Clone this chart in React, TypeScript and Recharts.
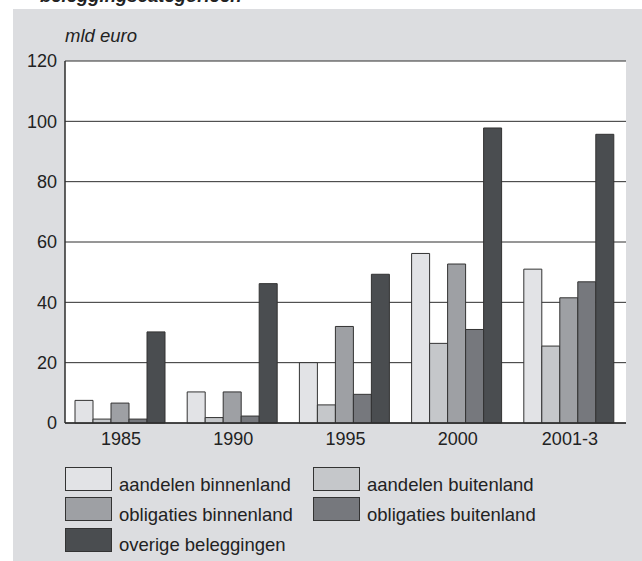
import React from 'react';
import { BarChart, Bar, XAxis, YAxis, CartesianGrid } from 'recharts';

const categories = ['1985', '1990', '1995', '2000', '2001-3'];
const seriesNames = [
  'aandelen binnenland',
  'aandelen buitenland',
  'obligaties binnenland',
  'obligaties buitenland',
  'overige beleggingen',
];
const aandelenBinnenland = [7.5, 10.3, 20, 56.2, 51];
const aandelenBuitenland = [1.3, 1.8, 6, 26.4, 25.5];
const obligatiesBinnenland = [6.6, 10.3, 32, 52.7, 41.5];
const obligatiesBuitenland = [1.3, 2.3, 9.5, 31, 46.8];
const overigeBeleggingen = [30.2, 46.2, 49.3, 97.8, 95.7];
const yTicks = [0, 20, 40, 60, 80, 100, 120];
const colors = ['#e2e3e6', '#c5c7ca', '#9ea0a4', '#76787d', '#4a4d50'];

const seriesValues = [
  aandelenBinnenland,
  aandelenBuitenland,
  obligatiesBinnenland,
  obligatiesBuitenland,
  overigeBeleggingen,
];
const keys = ['s0', 's1', 's2', 's3', 's4'];

const data = categories.map((c, i) => {
  const row: Record<string, string | number> = { cat: c };
  seriesValues.forEach((vals, k) => {
    row[keys[k]] = vals[i];
  });
  return row;
});

const FONT = '"Liberation Sans", Arial, sans-serif';

export default function App() {
  return (
    <div
      style={{
        position: 'absolute',
        left: 0,
        top: 0,
        width: 642,
        height: 561,
        overflow: 'hidden',
        background: '#ffffff',
        fontFamily: FONT,
      }}
    >
      <div
        style={{
          position: 'absolute',
          left: 13,
          top: 9,
          width: 629,
          height: 552,
          background: '#dcdde0',
        }}
      />
      <div
        style={{
          position: 'absolute',
          left: 40,
          top: -15,
          fontSize: 18.5,
          fontWeight: 'bold',
          fontStyle: 'italic',
          color: '#222',
          whiteSpace: 'nowrap',
        }}
      >
        beleggingscategorieën
      </div>
      <div
        style={{
          position: 'absolute',
          left: 65,
          top: 25,
          fontSize: 18.5,
          fontStyle: 'italic',
          color: '#222',
        }}
      >
        mld euro
      </div>
      <div style={{ position: 'absolute', left: 0, top: 0 }}>
        <BarChart
          width={642}
          height={561}
          data={data}
          margin={{ top: 61, right: 16, bottom: 108, left: 0 }}
          barCategoryGap={10}
          barGap={0}
        >
          <CartesianGrid
            vertical={false}
            stroke="#2e2e2e"
            strokeWidth={1}
            fill="#ffffff"
            fillOpacity={1}
          />
          <XAxis
            dataKey="cat"
            tickLine={false}
            tickSize={0}
            tickMargin={9}
            axisLine={{ stroke: '#2e2e2e', strokeWidth: 1.5 }}
            tick={{ fill: '#222', fontSize: 18, fontFamily: FONT }}
            height={30}
          />
          <YAxis
            domain={[0, 120]}
            ticks={yTicks}
            tickLine={false}
            tickSize={0}
            tickMargin={8}
            width={65}
            axisLine={{ stroke: '#2e2e2e', strokeWidth: 1.5 }}
            tick={{ fill: '#222', fontSize: 18, fontFamily: FONT }}
            interval={0}
          />
          <YAxis
            yAxisId="right"
            orientation="right"
            domain={[0, 120]}
            tick={false}
            tickLine={false}
            width={0}
            axisLine={{ stroke: '#2e2e2e', strokeWidth: 1.5 }}
          />
          {keys.map((k, i) => (
            <Bar
              key={k}
              dataKey={k}
              name={seriesNames[i]}
              fill={colors[i]}
              stroke="#333"
              strokeWidth={1}
              isAnimationActive={false}
            />
          ))}
        </BarChart>
      </div>
      {seriesNames.map((name, i) => {
        const row = Math.floor(i / 2);
        const col = i % 2;
        const left = col === 0 ? 65 : 313;
        const top = 467 + row * 30.3;
        return (
          <div key={name}>
            <div
              style={{
                position: 'absolute',
                left,
                top,
                width: 47,
                height: 24,
                boxSizing: 'border-box',
                background: colors[i],
                border: '1px solid #333',
              }}
            />
            <div
              style={{
                position: 'absolute',
                left: left + 54,
                top: top + 6.5,
                fontSize: 18.5,
                color: '#222',
                whiteSpace: 'nowrap',
              }}
            >
              {name}
            </div>
          </div>
        );
      })}
    </div>
  );
}
